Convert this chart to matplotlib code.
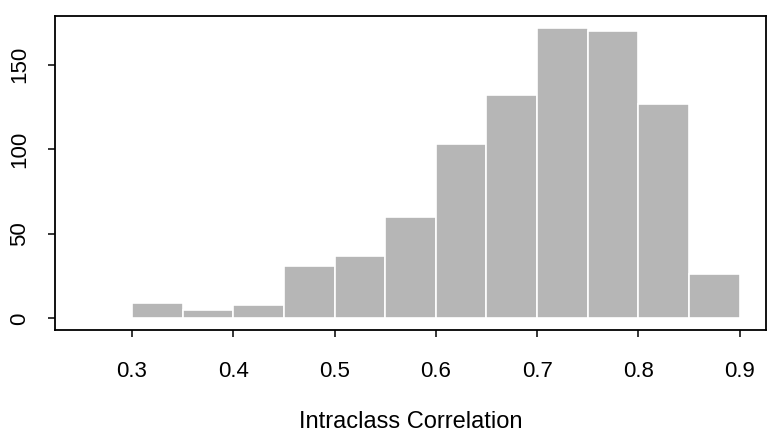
import matplotlib
matplotlib.use("Agg")
import matplotlib.pyplot as plt
import numpy as np

# histogram of intraclass correlations, bins of width 0.05
bin_edges = [0.30, 0.35, 0.40, 0.45, 0.50, 0.55, 0.60, 0.65, 0.70, 0.75, 0.80, 0.85, 0.90]
counts = [9, 5, 8, 31, 37, 60, 103, 132, 172, 170, 127, 26]
x_ticks = [0.3, 0.4, 0.5, 0.6, 0.7, 0.8, 0.9]
y_ticks = [0, 50, 100, 150]
x_label = "Intraclass Correlation"

plt.rcParams["font.family"] = ["Liberation Sans", "DejaVu Sans"]

fig = plt.figure(figsize=(7.67, 4.36), dpi=100)
ax = fig.add_axes([55 / 767, 1 - 330 / 436, (766 - 55) / 767, (330 - 16) / 436])

edges = np.array(bin_edges)
widths = np.diff(edges)
ax.bar(edges[:-1], counts, width=widths, align="edge",
       color="#b6b6b6", edgecolor="white", linewidth=1.2)

ax.set_xlim(0.224, 0.926)
ax.set_ylim(-6.9, 178.9)
ax.set_xticks(x_ticks)
ax.set_xticklabels([f"{v:.1f}" for v in x_ticks])
ax.set_yticks(y_ticks)
ax.set_yticklabels([str(v) for v in y_ticks], rotation=90, va="center")

ax.tick_params(axis="x", length=5, width=1.1, pad=17, labelsize=16)
ax.tick_params(axis="y", length=5, width=1.1, pad=13, labelsize=16)
for spine in ax.spines.values():
    spine.set_linewidth(1.3)
    spine.set_color("black")

ax.set_xlabel(x_label, fontsize=17, labelpad=21)

fig.savefig("out.png", dpi=100)
